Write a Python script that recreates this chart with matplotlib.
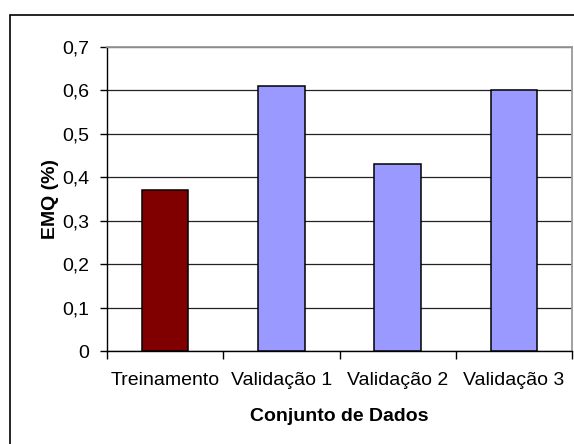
import matplotlib
matplotlib.use("Agg")
import matplotlib.pyplot as plt
from matplotlib.patches import Rectangle

categories = ["Treinamento", "Validação 1", "Validação 2", "Validação 3"]
values = [0.37, 0.61, 0.43, 0.60]
bar_colors = ["#800000", "#9999FF", "#9999FF", "#9999FF"]
y_ticks = [0, 0.1, 0.2, 0.3, 0.4, 0.5, 0.6, 0.7]
y_tick_labels = ["0", "0,1", "0,2", "0,3", "0,4", "0,5", "0,6", "0,7"]

plt.rcParams["font.family"] = ["Liberation Sans", "DejaVu Sans"]

W, H = 574, 444
fig = plt.figure(figsize=(W / 100, H / 100), dpi=100)

# outer chart frame
fig.patches.append(Rectangle((10 / W, -0.1), 2.0, (H - 15) / H + 0.1,
                             transform=fig.transFigure, fill=False,
                             edgecolor="black", linewidth=1.2))

left, right, top, bottom = 107, 572, 47, 351
ax = fig.add_axes([left / W, 1 - bottom / H, (right - left) / W, (bottom - top) / H])

x = list(range(len(categories)))
ax.bar(x, values, width=0.4, color=bar_colors, edgecolor="black",
       linewidth=1.1, zorder=3)

ax.set_xlim(-0.5, len(categories) - 0.5)
ax.set_ylim(0, 0.7)
ax.set_yticks(y_ticks)
ax.set_yticklabels(y_tick_labels, fontsize=14)
ax.yaxis.grid(True, color="#222222", linewidth=0.9, zorder=0)

ax.set_xticks(x)
ax.set_xticklabels(categories, fontsize=14)
ax.tick_params(axis="x", length=0, pad=15)
ax.set_xticks([i + 0.5 for i in range(-1, len(categories))], minor=True)
ax.tick_params(axis="x", which="minor", length=6, width=1, direction="out")
ax.tick_params(axis="y", length=5, width=1, direction="out", pad=8)

for side in ("top", "right"):
    ax.spines[side].set_color("#999999")
    ax.spines[side].set_linewidth(1.3)
for side in ("left", "bottom"):
    ax.spines[side].set_color("black")
    ax.spines[side].set_linewidth(1.0)

ax.set_ylabel("EMQ (%)", fontsize=14, fontweight="bold", labelpad=2)
ax.set_xlabel("Conjunto de Dados", fontsize=14, fontweight="bold", labelpad=14)

fig.savefig("out.png", dpi=100)
